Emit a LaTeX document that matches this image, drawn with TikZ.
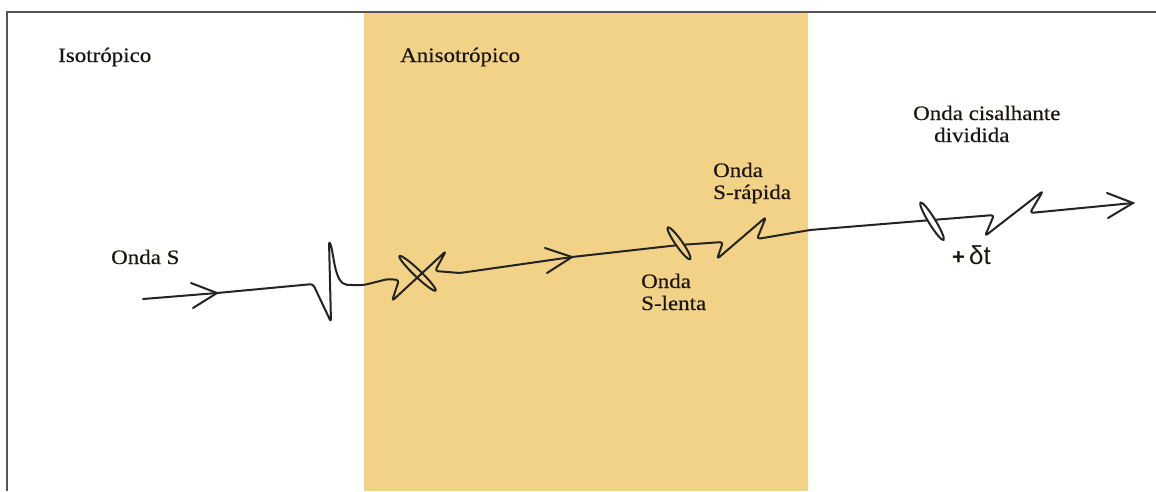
\documentclass[tikz,border=0pt]{standalone}
\usepackage{fontspec}
\setmainfont{Liberation Serif}[FakeStretch=1.12,FakeBold=0.35]
\newfontfamily\deltafont{Liberation Sans}
\definecolor{sand}{RGB}{242,210,134}
\definecolor{ink}{RGB}{35,35,35}
\definecolor{framegray}{RGB}{85,85,85}
\definecolor{txt}{RGB}{25,20,15}
\begin{document}
\begin{tikzpicture}[x=1pt,y=-1pt,
  wave/.style={draw=ink,line width=2pt,line cap=round,line join=round},
  chevron/.style={draw=ink,line width=2pt,line cap=round,line join=miter},
  label/.style={anchor=base west,inner sep=0pt,text=txt,
    font=\fontsize{20.5}{24}\selectfont}]
\useasboundingbox (0,0) rectangle (1156,491);

% media: isotropic (white) and anisotropic (sand) layers
\fill[sand] (364,13) rectangle (808,491);
\draw[framegray,line width=1.3pt] (7,491) -- (7,12) -- (1156,12);

% region and wave labels
\node[label] (iso)   at (58,62)  {Isotrópico};
\node[label] (aniso) at (400,62) {Anisotrópico};
\node[label] (ondaS) at (111,264) {Onda S};
\node[label] (fast1) at (713,177) {Onda};
\node[label] (fast2) at (713,199) {S-rápida};
\node[label] (slow1) at (641,288) {Onda};
\node[label] (slow2) at (641,310) {S-lenta};
\node[label] (split1) at (913,120) {Onda cisalhante};
\node[label] (split2) at (934,142) {dividida};
\node[anchor=base west,inner sep=0pt,text=txt,
  font=\deltafont\fontsize{26}{30}\selectfont] (dt) at (952,264)
  {{\fontsize{22}{26}\selectfont\bfseries +}\kern4pt δt};

% arrow tips along the ray
\coordinate (t1) at (217,293);
\coordinate (t2) at (572,257);
\coordinate (t3) at (1133,203);

% the S wave ray with its pulse, splitting and delayed pulses
\draw[wave,rounded corners=3pt] (143,299) -- (t1) -- (313,284) -- (331,322)
  -- (329,241) .. controls (334,252) and (334,284) .. (350,285)
  -- (364,285) -- (388,279) -- (399,280) -- (392,301) -- (446,251)
  -- (435,271) -- (460,273) -- (t2) -- (679,245) -- (723,242)
  -- (717,259) -- (766,217) -- (757,239) -- (810,230) -- (932,220)
  -- (994,215) -- (985,236) -- (1043,191) -- (1030,213) -- (t3);

% polarisation loops
\draw[wave] (417.5,273.3) ellipse [x radius=25pt,y radius=3.4pt,rotate=-43.7];
\draw[wave,fill=sand] (679,243.3) ellipse [x radius=19.5pt,y radius=3.4pt,rotate=-54.9];
\draw[wave,fill=white] (932,221.2) ellipse [x radius=22pt,y radius=3.4pt,rotate=-58.4];

% open arrowheads
\draw[chevron] (191,283) -- (t1) -- (193,308);
\draw[chevron] (545,248) -- (t2) -- (547,273);
\draw[chevron] (1107,193) -- (t3) -- (1108,218);
\end{tikzpicture}
\end{document}
